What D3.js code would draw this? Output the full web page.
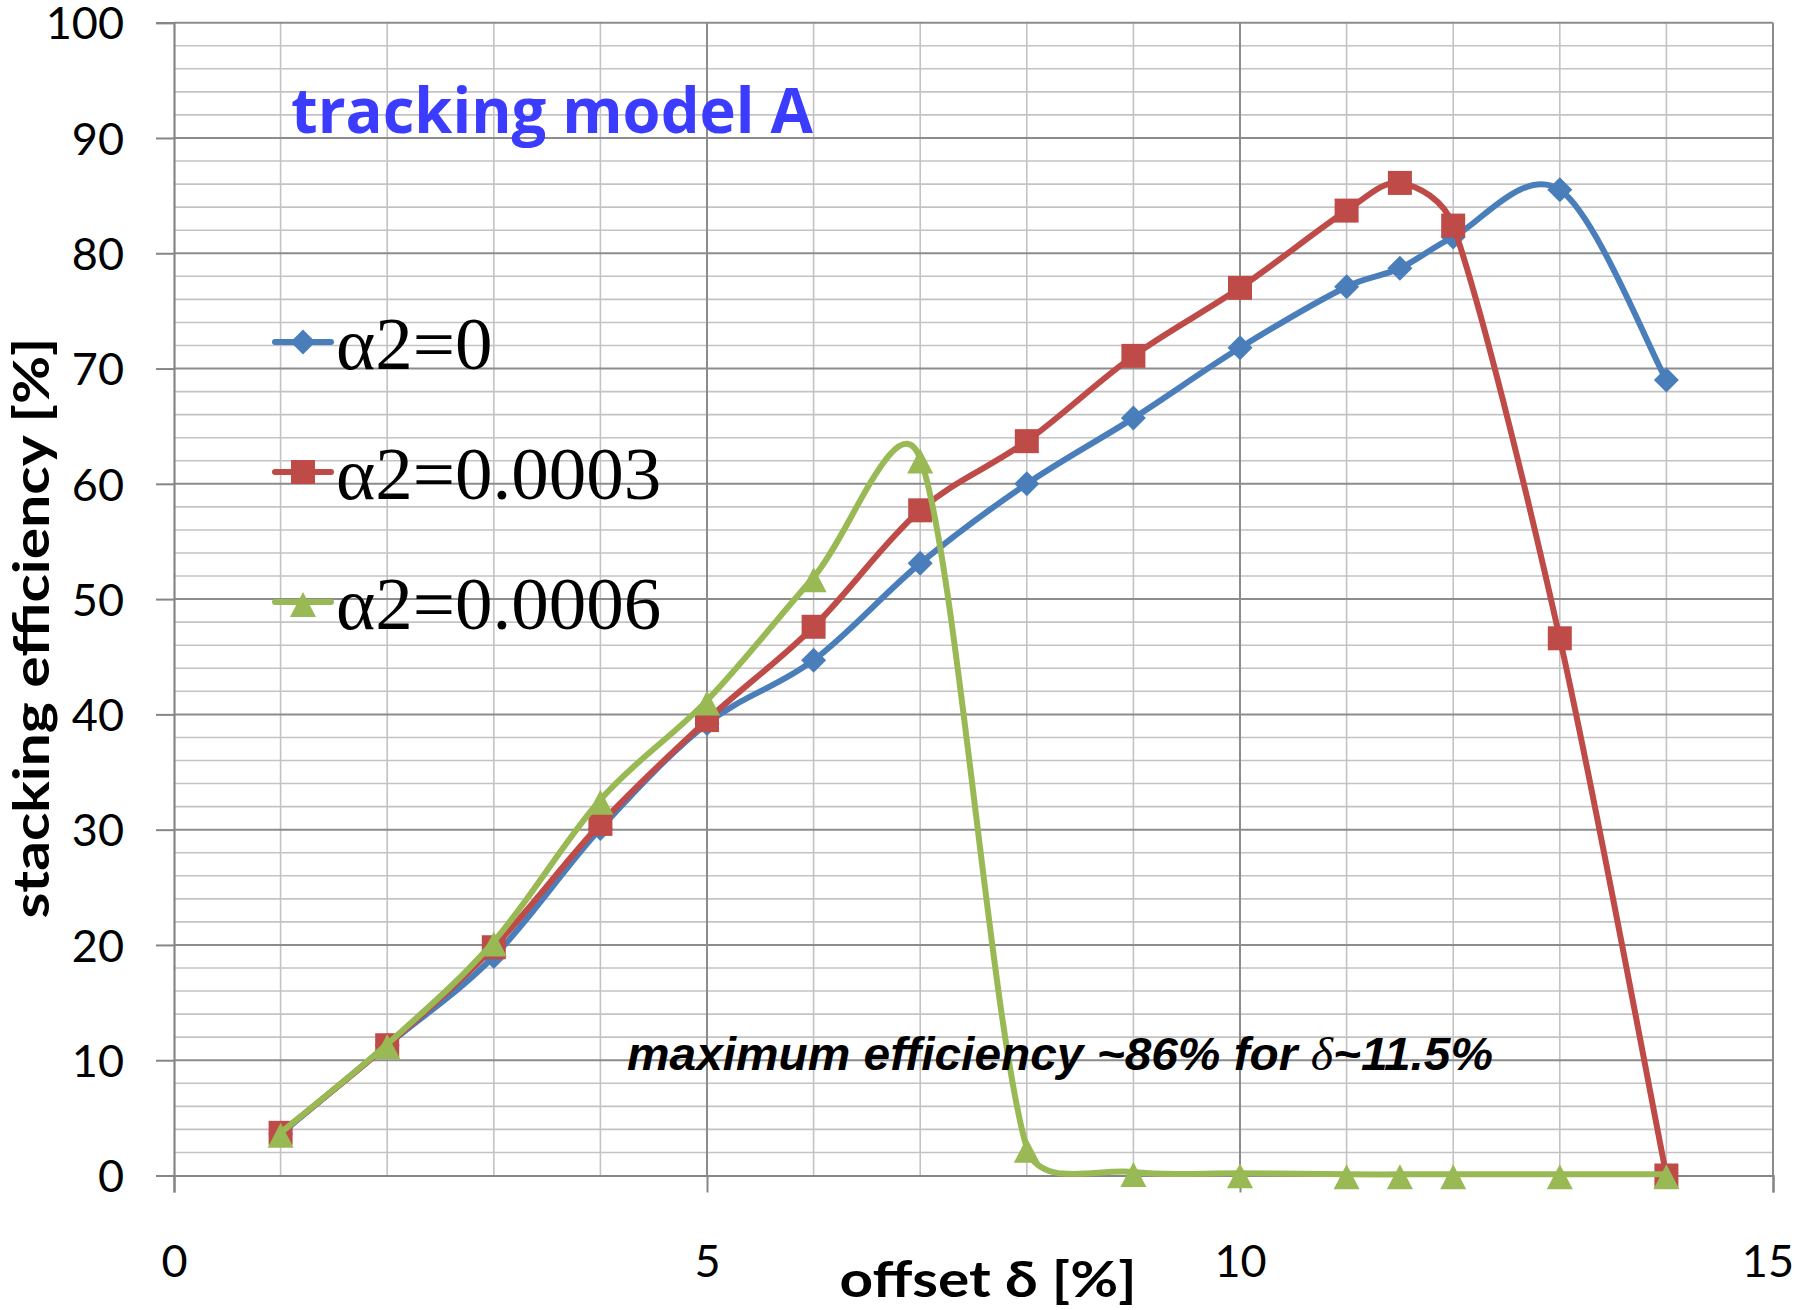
<!DOCTYPE html>
<html><head><meta charset="utf-8">
<script src="https://cdn.jsdelivr.net/npm/d3@7"></script>
<style>body{margin:0;background:#fff}svg{display:block}</style>
</head><body>
<svg id="chart" width="1796" height="1310"></svg>
<script>
// ---- data ----
const offsets = [1, 2, 3, 4, 5, 6, 7, 8, 9, 10, 11, 11.5, 12, 13, 14];
const effAlpha0 = [3.6, 11.3, 19.0, 30.1, 39.2, 44.7, 53.1, 60.0, 65.7, 71.8, 77.1, 78.7, 81.4, 85.5, 69.0];
const effAlpha3 = [3.7, 11.3, 19.8, 30.5, 39.5, 47.6, 57.7, 63.7, 71.1, 77.0, 83.7, 86.1, 82.4, 46.6, 0.0];
const effAlpha6 = [3.7, 11.4, 20.3, 32.6, 41.2, 51.9, 62.2, 2.4, 0.3, 0.2, 0.1, 0.1, 0.1, 0.1, 0.1];
const seriesNames = ["\u03b12=0", "\u03b12=0.0003", "\u03b12=0.0006"];
const xTicks = [0, 5, 10, 15];
const yTicks = [0, 10, 20, 30, 40, 50, 60, 70, 80, 90, 100];
const titleText = "tracking model A";
const xTitle = "offset \u03b4 [%]";
const yTitle = "stacking efficiency [%]";
const noteText = ["maximum efficiency ~86% for ", "\u03b4", "~11.5%"];

// ---- layout ----
const svg = d3.select("#chart");
const x = d3.scaleLinear().domain([0, 15]).range([174, 1773]);
const y = d3.scaleLinear().domain([0, 100]).range([1175.5, 22.7]);
const colors = ["#4a7ebb", "#be4b48", "#98b954"];
const shapes = ["diamond", "square", "triangle"];

svg.append("rect").attr("width", 1796).attr("height", 1310).attr("fill", "#fff");

const grid = svg.append("g");
d3.range(0, 101, 2).filter(v => v % 10 !== 0).forEach(v => {
  grid.append("line").attr("x1", x(0)).attr("x2", x(15)).attr("y1", y(v)).attr("y2", y(v))
    .attr("stroke", "#c3c3c3").attr("stroke-width", 1.6);
});
d3.range(1, 15).filter(v => v % 5 !== 0).forEach(v => {
  grid.append("line").attr("x1", x(v)).attr("x2", x(v)).attr("y1", y(0)).attr("y2", y(100))
    .attr("stroke", "#c3c3c3").attr("stroke-width", 1.6);
});
yTicks.filter(v => v > 0).forEach(v => {
  grid.append("line").attr("x1", x(0)).attr("x2", x(15)).attr("y1", y(v)).attr("y2", y(v))
    .attr("stroke", "#8c8c8c").attr("stroke-width", 2);
});
xTicks.filter(v => v > 0).forEach(v => {
  grid.append("line").attr("x1", x(v)).attr("x2", x(v)).attr("y1", y(0)).attr("y2", y(100))
    .attr("stroke", "#8c8c8c").attr("stroke-width", 2);
});

// axes
const yAxis = d3.axisLeft(y).tickValues(yTicks).tickSize(18).tickPadding(32).tickFormat(d3.format("d"));
const gy = svg.append("g").attr("transform", `translate(${x(0)},0)`).call(yAxis);
const xAxis = d3.axisBottom(x).tickValues(xTicks).tickSize(17).tickPadding(53).tickFormat(d3.format("d"));
const gx = svg.append("g").attr("transform", `translate(0,${y(0)})`).call(xAxis);
[gx, gy].forEach(g => {
  g.selectAll(".domain").attr("stroke", "#868686").attr("stroke-width", 2.2);
  g.selectAll(".tick line").attr("stroke", "#868686").attr("stroke-width", 2);
  g.selectAll(".tick text").attr("font-family", "Lato, 'Open Sans', sans-serif")
    .attr("font-size", 45).attr("fill", "#000");
});
gy.selectAll(".tick text").attr("dy", "0.36em");
gx.selectAll(".tick text").attr("dy", "0.71em");
gx.selectAll(".tick text").each(function() {
  const bb = this.getBBox();
  const tr = this.parentNode.getAttribute("transform");
  const tx = +tr.match(/translate\(([\d.\-]+)/)[1];
  const right = tx + bb.x + bb.width;
  if (right > 1794) d3.select(this).attr("x", 1794 - right);
});

// smoothed line: Catmull-Rom Bezier with control arms limited relative to the segment
function smoothPath(pts) {
  const p = pts.map(d => [x(d[0]), y(d[1])]);
  const n = p.length;
  const P = i => p[Math.max(0, Math.min(n - 1, i))];
  const dist = (a, b) => Math.hypot(b[0] - a[0], b[1] - a[1]);
  const arm = (a, b, seg) => {
    let vx = (b[0] - a[0]) / 6, vy = (b[1] - a[1]) / 6;
    const len = Math.hypot(vx, vy), lim = seg * 0.4;
    if (len > lim && len > 0) { vx *= lim / len; vy *= lim / len; }
    return [vx, vy];
  };
  const path = d3.path();
  path.moveTo(p[0][0], p[0][1]);
  for (let i = 0; i < n - 1; i++) {
    const p0 = P(i - 1), p1 = P(i), p2 = P(i + 1), p3 = P(i + 2);
    const seg = dist(p1, p2);
    const a1 = arm(p0, p2, seg), a2 = arm(p1, p3, seg);
    path.bezierCurveTo(p1[0] + a1[0], p1[1] + a1[1], p2[0] - a2[0], p2[1] - a2[1], p2[0], p2[1]);
  }
  return path.toString();
}
function marker(g, shape, cx, cy, color) {
  if (shape === "diamond") {
    const r = 12.5;
    g.append("path").attr("d", `M${cx},${cy - r}L${cx + r},${cy}L${cx},${cy + r}L${cx - r},${cy}Z`).attr("fill", color);
  } else if (shape === "square") {
    const s = 24;
    g.append("rect").attr("x", cx - s / 2).attr("y", cy - s / 2).attr("width", s).attr("height", s).attr("fill", color);
  } else {
    const w = 26, h = 25;
    g.append("path").attr("d", `M${cx},${cy - h * 0.4}L${cx + w / 2},${cy + h * 0.6}L${cx - w / 2},${cy + h * 0.6}Z`).attr("fill", color);
  }
}
const allSeries = [effAlpha0, effAlpha3, effAlpha6];
allSeries.forEach((vals, i) => {
  const pts = offsets.map((o, k) => [o, vals[k]]);
  const g = svg.append("g");
  g.append("path").attr("d", smoothPath(pts)).attr("fill", "none").attr("stroke", colors[i])
    .attr("stroke-width", 6).attr("stroke-linejoin", "round").attr("stroke-linecap", "round");
  pts.forEach(p => marker(g, shapes[i], x(p[0]), y(p[1]), colors[i]));
});

// legend
const legY = [342, 472, 602];
seriesNames.forEach((name, i) => {
  const g = svg.append("g");
  g.append("line").attr("x1", 275).attr("x2", 331).attr("y1", legY[i]).attr("y2", legY[i])
    .attr("stroke", colors[i]).attr("stroke-width", 6).attr("stroke-linecap", "round");
  marker(g, shapes[i], 303, legY[i], colors[i]);
  g.append("text").attr("x", 336).attr("y", legY[i] + 27)
    .attr("font-family", "'Liberation Serif', 'Times New Roman', serif").attr("font-size", 75)
    .attr("fill", "#000").text(name);
});

// title
svg.append("text").attr("x", 291).attr("y", 133).attr("font-family", "'Open Sans', Lato, sans-serif")
  .attr("font-weight", "bold").attr("font-size", 63).attr("fill", "#3c3cff")
  .attr("textLength", 522).attr("lengthAdjust", "spacingAndGlyphs").text(titleText);

// axis titles
svg.append("text").attr("x", 988).attr("y", 1297).attr("text-anchor", "middle")
  .attr("font-family", "Lato, 'Open Sans', sans-serif").attr("font-weight", "bold").attr("font-size", 50)
  .attr("textLength", 297).attr("lengthAdjust", "spacingAndGlyphs").attr("fill", "#000").text(xTitle);
svg.append("text").attr("transform", "translate(49,628) rotate(-90)").attr("text-anchor", "middle")
  .attr("font-family", "Lato, 'Open Sans', sans-serif").attr("font-weight", "bold").attr("font-size", 50)
  .attr("textLength", 581).attr("lengthAdjust", "spacingAndGlyphs").attr("fill", "#000").text(yTitle);

// annotation
const note = svg.append("text").attr("x", 627).attr("y", 1070)
  .attr("font-family", "'Liberation Sans', Arial, sans-serif").attr("font-weight", "bold")
  .attr("font-style", "italic").attr("font-size", 47).attr("fill", "#000")
  .attr("textLength", 866).attr("lengthAdjust", "spacingAndGlyphs");
note.append("tspan").text(noteText[0]);
note.append("tspan").attr("font-family", "'Liberation Serif', serif").attr("font-weight", "normal").text(noteText[1]);
note.append("tspan").text(noteText[2]);
</script>
</body></html>
